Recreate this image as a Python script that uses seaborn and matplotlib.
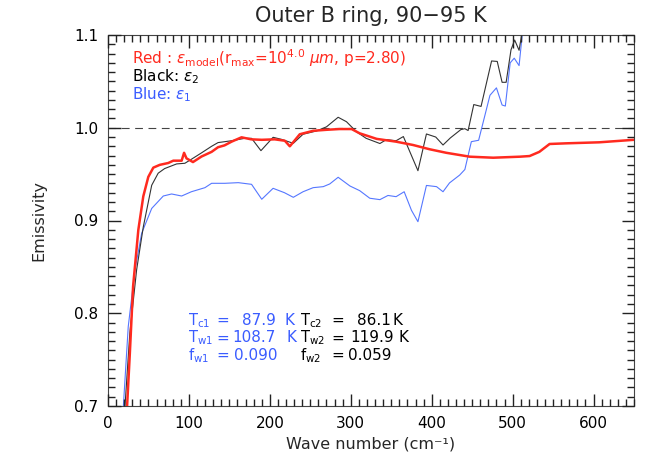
import matplotlib
matplotlib.use("Agg")
import matplotlib.pyplot as plt
from matplotlib.ticker import MultipleLocator, FormatStrFormatter
import seaborn as sns

# ---- data ----
red_x = [20, 23, 27, 31, 37.5, 43.6, 49.8, 56, 64, 74.5, 80.7, 91, 94, 97, 105, 115.6, 128, 136, 144,
         152.7, 165, 177, 190, 206, 218.5, 224.7, 237, 253.5, 270, 286, 301, 311, 332, 356, 377, 397.5,
         418, 447, 476, 509, 521, 533, 545.7, 566, 607, 650]
red_y = [0.62, 0.69, 0.757, 0.829, 0.890, 0.926, 0.947, 0.957, 0.960, 0.962, 0.9645, 0.9645, 0.973, 0.967,
         0.963, 0.969, 0.974, 0.979, 0.981, 0.985, 0.9897, 0.9875, 0.987, 0.9875, 0.986, 0.980, 0.993,
         0.9967, 0.9978, 0.9986, 0.9986, 0.994, 0.988, 0.985, 0.9814, 0.9768, 0.973, 0.9688, 0.9677,
         0.9688, 0.9695, 0.974, 0.9825, 0.9832, 0.9843, 0.987]

blk_x = [18, 21, 27, 35.4, 43.6, 54, 62, 70, 84.8, 95, 103, 115.7, 128, 136, 152.7, 169, 177.4, 189, 204,
         214.4, 229, 241, 257.6, 270, 284.4, 294.7, 307, 319, 336, 344, 356, 365, 383, 393.5, 405, 414,
         423, 436, 441, 445, 452, 461, 474, 481, 487, 492, 498, 502.5, 508, 513, 520]
blk_y = [0.62, 0.70, 0.779, 0.847, 0.893, 0.938, 0.951, 0.956, 0.961, 0.9617, 0.966, 0.973, 0.980, 0.984,
         0.986, 0.9886, 0.9886, 0.9753, 0.9897, 0.9875, 0.9832, 0.993, 0.9965, 1.001, 1.0113, 1.0065,
         0.9957, 0.9886, 0.983, 0.9872, 0.986, 0.9905, 0.9537, 0.9933, 0.990, 0.9814, 0.989, 0.998,
         0.999, 0.997, 1.025, 1.023, 1.072, 1.0715, 1.049, 1.049, 1.084, 1.0946, 1.0835, 1.11, 1.15]

blu_x = [17, 19, 25, 33.3, 41.6, 54, 68.3, 78.6, 91, 103, 119.8, 128, 144.4, 161, 177.4, 190, 204, 218,
         229, 241, 253.5, 266, 274, 284.4, 299, 311, 323.5, 336, 346, 356, 366, 375, 383, 393.5, 406, 414,
         422, 434.6, 441, 449, 458, 472, 480, 487, 491, 497, 502, 508, 513, 520]
blu_y = [0.63, 0.70, 0.7855, 0.8466, 0.8862, 0.913, 0.9264, 0.9286, 0.9264, 0.931, 0.9354, 0.9401,
         0.9401, 0.9408, 0.939, 0.9229, 0.9347, 0.930, 0.925, 0.931, 0.9354, 0.9365, 0.9394, 0.9466,
         0.9372, 0.9322, 0.924, 0.9225, 0.927, 0.9257, 0.931, 0.911, 0.8987, 0.9378, 0.9365, 0.931,
         0.9405, 0.949, 0.955, 0.985, 0.9865, 1.035, 1.043, 1.0245, 1.0234, 1.07, 1.075, 1.067, 1.11, 1.16]

title = "Outer B ring, 90\u221295 K"
legend_lines = [
    (r"Red : $\epsilon_{\rm model}$(r$_{\rm max}$=10$^{4.0}$ $\mu m$, p=2.80)", "#ff2a1f"),
    (r"Black: $\epsilon_{2}$", "black"),
    (r"Blue: $\epsilon_{1}$", "#3a5cff"),
]
blue_labels = [r"T$_{\rm c1}$", r"T$_{\rm w1}$", r"f$_{\rm w1}$"]
blue_values = ["87.9", "108.7", "0.090"]
blue_units = ["K", "K", ""]
black_labels = [r"T$_{\rm c2}$", r"T$_{\rm w2}$", r"f$_{\rm w2}$"]
black_values = ["86.1", "119.9", "0.059"]
black_units = ["K", "K", ""]

# ---- figure ----
sns.set_theme(style="ticks")
plt.rcParams["font.family"] = ["DejaVu Sans"]
plt.rcParams["mathtext.fontset"] = "dejavusans"
plt.rcParams["axes.axisbelow"] = False
plt.rcParams["xtick.minor.size"] = 5
plt.rcParams["ytick.minor.size"] = 5
plt.rcParams["xtick.minor.visible"] = True
plt.rcParams["ytick.minor.visible"] = True

W, H = 664, 475
fig = plt.figure(figsize=(W / 100, H / 100), dpi=100)
ax = fig.add_axes([108 / W, 1 - 406 / H, (634 - 108) / W, (406 - 35) / H])

ax.axhline(1.0, color="#444444", lw=0.8, ls=(0, (7, 5)), zorder=1)
sns.lineplot(x=blu_x, y=blu_y, ax=ax, color="#5577ff", lw=0.8, estimator=None, sort=False, zorder=2)
sns.lineplot(x=blk_x, y=blk_y, ax=ax, color="#333333", lw=0.8, estimator=None, sort=False, zorder=3)
sns.lineplot(x=red_x, y=red_y, ax=ax, color="#ff2a1f", lw=1.8, estimator=None, sort=False, zorder=4)

ax.set_xlim(0, 650)
ax.set_ylim(0.7, 1.1)
ax.xaxis.set_major_locator(MultipleLocator(100))
ax.xaxis.set_minor_locator(MultipleLocator(10))
ax.yaxis.set_major_locator(MultipleLocator(0.1))
ax.yaxis.set_minor_locator(MultipleLocator(0.01))
ax.yaxis.set_major_formatter(FormatStrFormatter("%.1f"))
ax.tick_params(which="both", direction="in", top=True, right=True, bottom=True, left=True,
               colors="#222222", labelcolor="black", labelsize=11, pad=7)
ax.tick_params(which="major", length=9, width=1.0)
ax.tick_params(which="minor", length=5, width=1.0)
for s in ax.spines.values():
    s.set_color("#444444")
    s.set_linewidth(0.8)

ax.set_xlabel("Wave number (cm\u207b\u00b9)", fontsize=11.5, labelpad=4)
ax.set_ylabel("Emissivity", fontsize=11.5, labelpad=20)

fig.text(371 / W, 1 - 16 / H, title, ha="center", va="center", fontsize=15)

for i, (txt, col) in enumerate(legend_lines):
    fig.text(132 / W, 1 - (58 + i * 18.5) / H, txt, color=col, fontsize=11, ha="left", va="center")


def put(px, py, s, col, fs=11):
    fig.text(px / W, 1 - py / H, s, color=col, fontsize=fs, ha="left", va="baseline")


row_base = [325, 342.5, 360]
blue_eq_x, blue_val_x, blue_k_x = 216, [242, 232, 234], [284, 287, 0]
blk_eq_x, blk_val_x, blk_k_x = 331, [357, 350, 348], [393, 398, 0]
for i in range(3):
    yb = row_base[i]
    put(188, yb, blue_labels[i], "#3a5cff", 10.5)
    put(blue_eq_x, yb, "=", "#3a5cff")
    put(blue_val_x[i], yb, blue_values[i], "#3a5cff")
    if blue_units[i]:
        put(blue_k_x[i], yb, blue_units[i], "#3a5cff")
    put(300, yb, black_labels[i], "black", 10.5)
    put(blk_eq_x, yb, "=", "black")
    put(blk_val_x[i], yb, black_values[i], "black")
    if black_units[i]:
        put(blk_k_x[i], yb, black_units[i], "black")

fig.savefig("out.png", dpi=100)
